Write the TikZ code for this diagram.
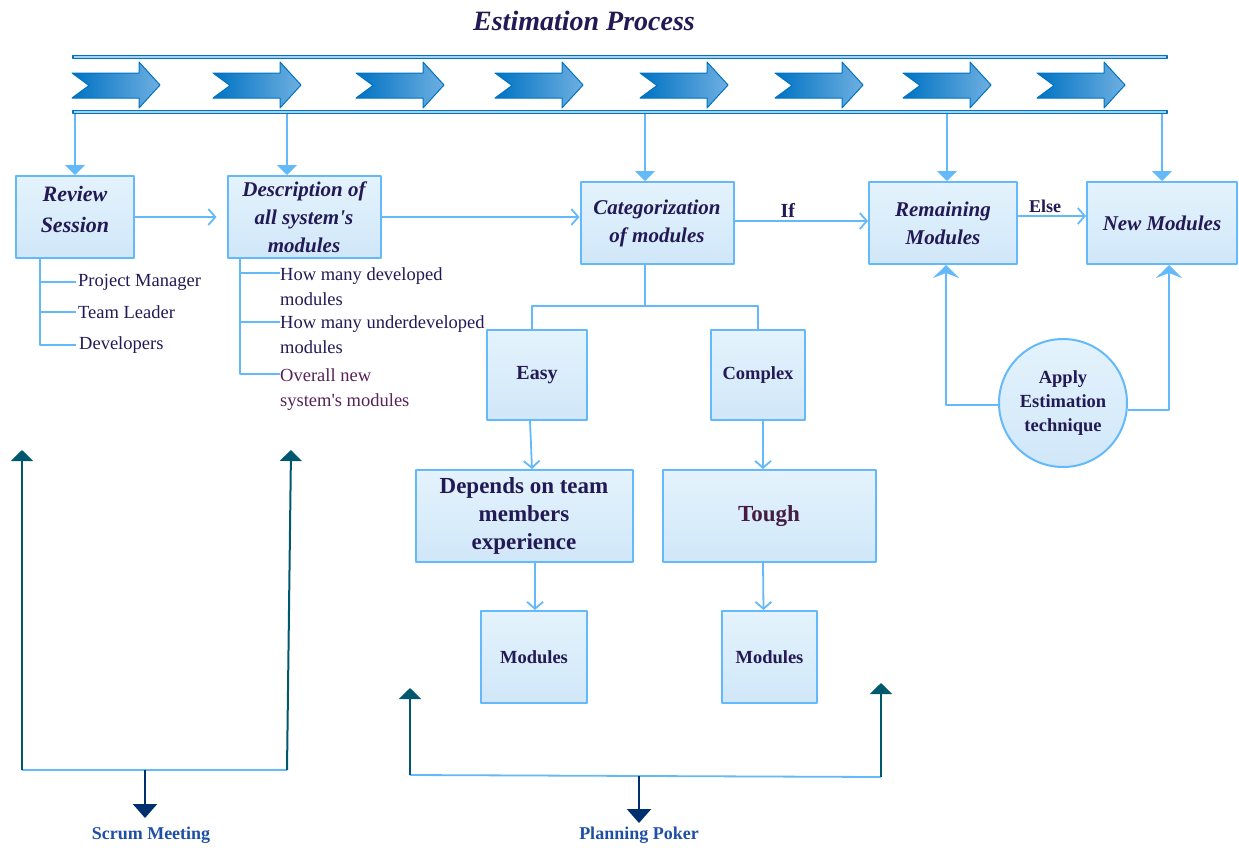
\documentclass[tikz,border=0pt]{standalone}
\usepackage{fontspec}
\setmainfont{Liberation Serif}
\usetikzlibrary{arrows.meta, calc, positioning}
\definecolor{navytext} {RGB}{35,  25,  85}
\definecolor{plumtext} {RGB}{85,  35,  85}
\definecolor{linkclr}  {RGB}{100, 185, 250}
\definecolor{boxtop}   {RGB}{228, 243, 252}
\definecolor{boxbot}   {RGB}{208, 231, 249}
\definecolor{chevdark} {RGB}{0,  115, 195}
\definecolor{chevlite} {RGB}{110, 175, 225}
\definecolor{raillite} {RGB}{165, 210, 242}
\definecolor{tealclr}  {RGB}{0,   88, 110}
\definecolor{deepnavy} {RGB}{0,   48, 110}
\definecolor{meetclr}  {RGB}{30,  80, 165}

\begin{document}
\begin{tikzpicture}[x=1pt, y=-1pt, line join=round,
    every node/.style={text=navytext, inner sep=0pt},
    box/.style={draw=linkclr, line width=2pt, top color=boxtop, bottom color=boxbot, align=center},
    headbox/.style={box, font=\fontsize{21}{28}\selectfont\bfseries\itshape},
    plainbox/.style={box, font=\fontsize{19}{28}\selectfont\bfseries},
    item/.style={anchor=west, align=left, font=\fontsize{18.5}{25}\selectfont},
    railbar/.style={draw=chevdark, line width=1.8pt, fill=raillite, minimum width=1094pt, minimum height=3pt},
    link/.style={draw=linkclr, line width=1.8pt},
    openarr/.style={link, -{Straight Barb[length=7pt, width=16pt]}},
    feed/.style={link, -{Triangle[length=10pt, width=20pt]}},
    backarr/.style={link, -{Stealth[length=13pt, width=26pt, inset=5pt]}},
    uparr/.style={draw=tealclr, line width=2pt, -{Triangle[length=11pt, width=22pt]}},
    downarr/.style={draw=deepnavy, line width=2.4pt, -{Triangle[length=14pt, width=24pt]}},
    meet/.style={text=meetclr, font=\fontsize{18}{20}\selectfont\bfseries}]
  \useasboundingbox (0,0) rectangle (1239,847);
  % title
  \node[font=\fontsize{28}{30}\selectfont\bfseries\itshape] (title) at (584,21) {Estimation Process};
  % rails and chevrons
  \node[railbar] (railtop) at (620,57) {};
  \node[railbar] (rail) at (620,112) {};
  \foreach \sx in {72,213,356,495,640,775,903,1037}
    \draw[chevdark, line width=1pt, left color=chevdark, right color=chevlite]
      (\sx,73) -- ++(67,0) -- ++(0,-11) -- (\sx+88,85) -- (\sx+67,108) -- ++(0,-10)
      -- (\sx,98) -- (\sx+17,85.5) -- cycle;
  % top row
  \node[headbox, font=\fontsize{22}{31}\selectfont\bfseries\itshape, text depth=16pt,
        minimum width=118pt, minimum height=82pt] (rev) at (75,217) {Review\\Session};
  \node[headbox, minimum width=153pt, minimum height=82pt] (desc) at (304,217)
    {Description of\\all system\textquotesingle s\\modules};
  \node[headbox, minimum width=153pt, minimum height=82pt] (cat) at (657,223) {Categorization\\of modules};
  \node[headbox, minimum width=148pt, minimum height=82pt] (rem) at (943,223) {Remaining\\Modules};
  \node[headbox, minimum width=150pt, minimum height=82pt] (new) at (1162,223) {New Modules};
  % easy / complex branch
  \node[plainbox, font=\fontsize{20}{28}\selectfont\bfseries,
        minimum width=100pt, minimum height=90pt] (easy) at (537,375) {Easy};
  \node[plainbox, font=\fontsize{18.5}{28}\selectfont\bfseries,
        minimum width=94pt, minimum height=90pt] (cplx) at (758,375) {Complex};
  \node[plainbox, font=\fontsize{23}{28}\selectfont\bfseries,
        minimum width=217pt, minimum height=92pt] (dep) at (524,516) {Depends on team\\members\\experience};
  \node[plainbox, font=\fontsize{23}{28}\selectfont\bfseries, text=plumtext!80!black,
        minimum width=213pt, minimum height=92pt] (tough) at (769,516) {Tough};
  \node[plainbox, font=\fontsize{18.5}{28}\selectfont\bfseries,
        minimum width=106pt, minimum height=92pt] (modA) at (534,657) {Modules};
  \node[plainbox, font=\fontsize{18.5}{28}\selectfont\bfseries,
        minimum width=95pt, minimum height=92pt] (modB) at (769.5,657) {Modules};
  \node[box, circle, font=\fontsize{18.5}{24}\selectfont\bfseries,
        minimum size=128pt] (tech) at (1063,403) {Apply\\Estimation\\technique};
  % lists
  \node[item] (pm) at (78,282) {Project Manager};
  \node[item] (tl) at (78,312) {Team Leader};
  \node[item] (devs) at (79,345) {Developers};
  \node[item, anchor=north west] (hmd) at (280,267) {How many developed\\modules};
  \node[item, anchor=north west] (hmu) at (280,315) {How many underdeveloped\\modules};
  \node[item, anchor=north west, text=plumtext] (ovr) at (280,368) {Overall new\\system\textquotesingle s modules};
  % rail feeds
  \draw[feed] (rail.south -| rev.north) -- (rev.north);
  \draw[feed] ([xshift=-17pt]desc.north |- rail.south) -- ([xshift=-17pt]desc.north);
  \draw[feed] ([xshift=-12pt]cat.north |- rail.south) -- ([xshift=-12pt]cat.north);
  \draw[feed] ([xshift=4pt]rem.north |- rail.south) -- ([xshift=4pt]rem.north);
  \draw[feed] (rail.south -| new.north) -- (new.north);
  % flow
  \draw[openarr] (rev.east) -- ([xshift=-10pt]desc.west);
  \draw[openarr] (desc.east) -- (desc.east -| cat.west);
  \draw[openarr] ([yshift=2pt]cat.east) -- ([yshift=2pt]rem.west)
    node[pos=0.4, above=3pt, font=\fontsize{20}{22}\selectfont\bfseries] (iflbl) {If};
  \draw[openarr] ([yshift=7pt]rem.east) -- ([yshift=7pt]new.west)
    node[pos=0.4, above=2pt, font=\fontsize{18}{20}\selectfont\bfseries] (elselbl) {Else};
  % trees
  \draw[link, line width=1.5pt] ([xshift=-35pt]rev.south) |- ([xshift=-2pt]pm.west);
  \draw[link, line width=1.5pt] ([xshift=-35pt]rev.south) |- ([xshift=-2pt]tl.west);
  \draw[link, line width=1.5pt] ([xshift=-35pt]rev.south) |- ([xshift=-3pt]devs.west);
  \draw[link, line width=1.5pt] ([xshift=-64pt]desc.south) |- ([yshift=-6pt]hmd.north west);
  \draw[link, line width=1.5pt] ([xshift=-64pt]desc.south) |- ([yshift=-7pt]hmu.north west);
  \draw[link, line width=1.5pt] ([xshift=-64pt]desc.south) |- ([yshift=-6pt]ovr.north west);
  % fork
  \draw[link] ([xshift=-12pt]cat.south) -- ++(0,41) coordinate (fork);
  \draw[link] (fork) -| ([xshift=-5pt]easy.north);
  \draw[link] (fork) -| (cplx.north);
  \draw[openarr] ([xshift=-7pt]easy.south) -- ([xshift=8pt]dep.north);
  \draw[openarr] ([xshift=5pt]cplx.south) -- ([xshift=-6pt]tough.north);
  \draw[openarr] ([xshift=11pt]dep.south) -- ([xshift=1pt]modA.north);
  \draw[openarr] ([xshift=-6pt]tough.south) -- ([xshift=-6pt]modB.north);
  % back to remaining / new
  \draw[backarr] ([yshift=-2pt]tech.west) -| ([xshift=3pt]rem.south);
  \draw[backarr] ([yshift=-7pt]tech.east) -| ([xshift=7pt]new.south);
  % scrum meeting
  \coordinate (sbl) at (22,770);  \coordinate (sbr) at (287,770);
  \coordinate (stl) at (22,450);  \coordinate (str) at (291,450);
  \coordinate (smid) at (145,770); \coordinate (sdown) at (145,818);
  \node[meet] (scrum) at (151,835) {Scrum Meeting};
  \draw[link] (sbl) -- (sbr);
  \draw[uparr] (sbl) -- (stl);
  \draw[uparr] (sbr) -- (str);
  \draw[downarr] (smid) -- (sdown);
  % planning poker
  \coordinate (pbl) at (410,775);  \coordinate (pbr) at (881,777);
  \coordinate (ptl) at (410,688);  \coordinate (ptr) at (881,683);
  \coordinate (pmid) at (639,776); \coordinate (pdown) at (639,823);
  \node[meet] (poker) at (639,835) {Planning Poker};
  \draw[link] (pbl) -- (pbr);
  \draw[uparr] (pbl) -- (ptl);
  \draw[uparr] (pbr) -- (ptr);
  \draw[downarr] (pmid) -- (pdown);
\end{tikzpicture}
\end{document}
